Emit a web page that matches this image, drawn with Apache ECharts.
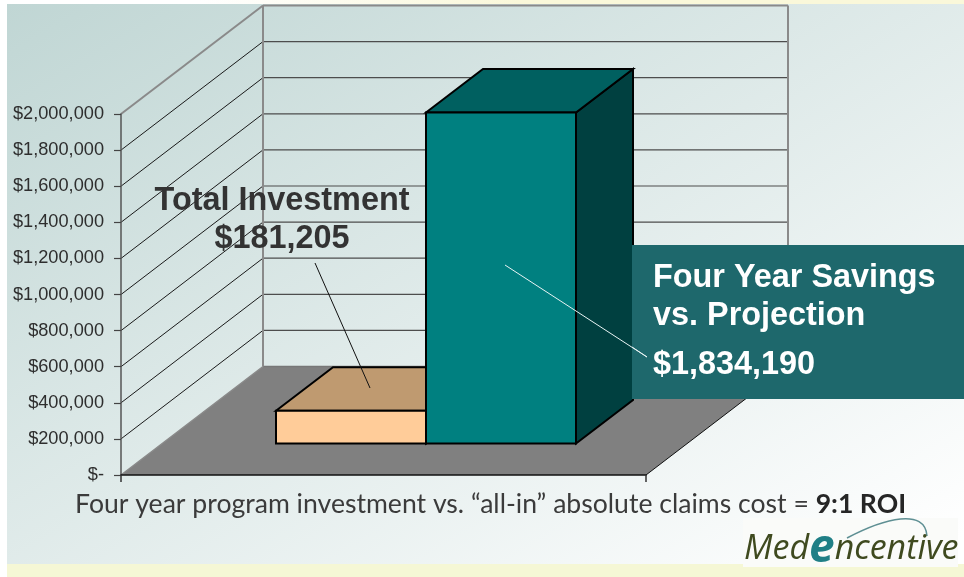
<!DOCTYPE html>
<html><head><meta charset="utf-8">
<style>html,body{margin:0;padding:0;background:#fff}#c{width:964px;height:577px}</style>
<script src="https://cdn.jsdelivr.net/npm/echarts@6/dist/echarts.min.js"></script>
</head><body><div id="c"></div>
<script>
const categories = ['Four year program'];
const seriesNames = ['Total Investment', 'Four Year Savings vs. Projection'];
const investmentValues = [181205];
const savingsValues = [1834190];
const tickValues = [0,200000,400000,600000,800000,1000000,1200000,1400000,1600000,1800000,2000000];
const tickLabels = ['$-','$200,000','$400,000','$600,000','$800,000','$1,000,000','$1,200,000','$1,400,000','$1,600,000','$1,800,000','$2,000,000'];

const WALL = {dx:142, dy:-108.5};
const BAR = {width:150, shiftX:42.5, shiftY:-31.5, depthX:57, depthY:-43.5};
const ARIAL = '"Liberation Sans", Arial, sans-serif';

function line(x1,y1,x2,y2,stroke,w){
  return {type:'line',shape:{x1,y1,x2,y2},style:{stroke,lineWidth:w||1}};
}
function poly(points,fill,stroke,w){
  return {type:'polygon',shape:{points},style:{fill,stroke:stroke||null,lineWidth:w||0,lineJoin:'miter'}};
}
function gridOf(params){ return params.coordSys; }

function renderWall(params,api){
  const v = api.value(0), c = gridOf(params);
  const y = api.coord([0,v])[1], x0 = c.x, x1 = c.x+c.width;
  const frame = v===tickValues[tickValues.length-1];
  const floor = v===0;
  const children = [];
  const yb = y+WALL.dy;
  if(frame){
    children.push(line(x0,y,x0+WALL.dx,yb,'#8a8a8a',2));
    children.push(line(x0+WALL.dx,yb,x1+WALL.dx,yb,'#8a8a8a',2));
    const yf = api.coord([0,0])[1]+WALL.dy;
    children.push(line(x0+WALL.dx,yb,x0+WALL.dx,yf,'#8a8a8a',2));
    children.push(line(x1+WALL.dx,yb,x1+WALL.dx,yf,'#8a8a8a',2));
  } else if(floor){
    children.push(poly([[x0,y],[x1,y],[x1+WALL.dx,yb],[x0+WALL.dx,yb]],'#808080'));
    children.push(line(x0,y,x0+WALL.dx,yb,'#8a8a8a',1.5));
    children.push(line(x0+WALL.dx,yb,x1+WALL.dx,yb,'#777',1.5));
    children.push(line(x1,y,x1+WALL.dx,yb,'#111',1));
  } else {
    children.push(line(x0,y,x0+WALL.dx,yb,'#1a1a1a',1));
    children.push(line(x0+WALL.dx,yb,x1+WALL.dx,yb,'#4d4d4d',1.2));
  }
  return {type:'group',children};
}

function barRenderer(offset,front,top,side){
  return function(params,api){
    const base = api.coord([api.value(0),0]);
    const topPt = api.coord([api.value(0),api.value(1)]);
    const xL = base[0]+BAR.shiftX+offset, xR = xL+BAR.width;
    const yB = base[1]+BAR.shiftY, yT = topPt[1]+BAR.shiftY;
    const dx = BAR.depthX, dy = BAR.depthY;
    const ink = '#000';
    return {type:'group',children:[
      poly([[xR,yT],[xR+dx,yT+dy],[xR+dx,yB+dy],[xR,yB]],side,ink,2),
      poly([[xL,yT],[xL+dx,yT+dy],[xR+dx,yT+dy],[xR,yT]],top,ink,2),
      poly([[xL,yT],[xR,yT],[xR,yB],[xL,yB]],front,ink,2)
    ]};
  };
}

const chart = echarts.init(document.getElementById('c'),null,{renderer:'canvas'});
chart.setOption({
  animation:false,
  backgroundColor:'#ffffff',
  grid:{left:121,top:114,width:525,height:361,containLabel:false},
  xAxis:{type:'category',data:categories,z:5,
    axisLine:{lineStyle:{color:'#111',width:1.5}},
    axisTick:{show:true,length:7,lineStyle:{color:'#333',width:1.5}},
    axisLabel:{show:false},splitLine:{show:false}},
  yAxis:{type:'value',min:0,max:2000000,interval:200000,z:5,
    axisLine:{show:true,lineStyle:{color:'#555',width:1.5}},
    axisTick:{show:true,length:7,lineStyle:{color:'#444',width:1.2}},
    axisLabel:{margin:17,fontFamily:ARIAL,fontSize:18.2,color:'#2e2e2e',
      formatter:function(v){return tickLabels[tickValues.indexOf(v)];}},
    splitLine:{show:false}},
  series:[
    {type:'custom',name:'walls',coordinateSystem:'cartesian2d',z:1,silent:true,
      data:tickValues.map(v=>[v]),encode:{y:0},renderItem:renderWall},
    {type:'custom',name:seriesNames[0],coordinateSystem:'cartesian2d',z:2,silent:true,
      data:investmentValues.map((v,i)=>[i,v]),encode:{x:0,y:1},
      renderItem:barRenderer(-BAR.width,'#ffcc99','#bf9a70','#7a5f40')},
    {type:'custom',name:seriesNames[1],coordinateSystem:'cartesian2d',z:3,silent:true,
      data:savingsValues.map((v,i)=>[i,v]),encode:{x:0,y:1},
      renderItem:barRenderer(0,'#008080','#006060','#004040')}
  ],
  graphic:[
    {type:'rect',z:-10,silent:true,shape:{x:7,y:4,width:957,height:560},
      style:{fill:{type:'linear',global:true,x:7,y:4,x2:571,y2:961,
        colorStops:[{offset:0,color:'#c0d6d4'},{offset:0.85,color:'#ffffff'}]}}},
    {type:'rect',z:-10,silent:true,shape:{x:7,y:0,width:957,height:4},
      style:{fill:{type:'linear',global:true,x:200,y:0,x2:520,y2:0,
        colorStops:[{offset:0,color:'#ffffff'},{offset:1,color:'#faf8da'}]}}},
    {type:'rect',z:-10,silent:true,shape:{x:7,y:564,width:957,height:13},style:{fill:'#f5f7d5'}},

    {type:'line',z:20,silent:true,shape:{x1:315,y1:263,x2:370,y2:388},style:{stroke:'#111',lineWidth:1}},
    {type:'text',z:20,silent:true,style:{x:282,y:201,text:'Total Investment',textAlign:'center',textVerticalAlign:'middle',
      font:'bold 32.4px '+ARIAL,fill:'#333333'}},
    {type:'text',z:20,silent:true,style:{x:282,y:239,text:'$181,205',textAlign:'center',textVerticalAlign:'middle',
      font:'bold 32.4px '+ARIAL,fill:'#333333'}},

    {type:'line',z:20,silent:true,shape:{x1:505,y1:265,x2:647,y2:357},style:{stroke:'#e8f4f4',lineWidth:1}},
    {type:'rect',z:19,silent:true,shape:{x:632,y:245,width:332,height:154},style:{fill:'#1e686c'}},
    {type:'line',z:20,silent:true,shape:{x1:632,y1:347,x2:647,y2:357},style:{stroke:'#e8f4f4',lineWidth:1}},
    {type:'text',z:21,silent:true,style:{x:653,y:278,text:'Four Year Savings',textAlign:'left',textVerticalAlign:'middle',
      font:'bold 32.4px '+ARIAL,fill:'#ffffff'}},
    {type:'text',z:21,silent:true,style:{x:653,y:316,text:'vs. Projection',textAlign:'left',textVerticalAlign:'middle',
      font:'bold 32.4px '+ARIAL,fill:'#ffffff'}},
    {type:'text',z:21,silent:true,style:{x:653,y:365,text:'$1,834,190',textAlign:'left',textVerticalAlign:'middle',
      font:'bold 32.4px '+ARIAL,fill:'#ffffff'}},

    {type:'text',z:20,silent:true,style:{x:75,y:504,textAlign:'left',textVerticalAlign:'middle',
      text:'{a|Four year program investment vs. \u201call-in\u201d absolute claims cost = }{b|9:1 ROI}',
      rich:{a:{font:'26.6px Lato',fill:'#3b3b3b'},b:{font:'bold 26.6px Lato',fill:'#262626'}}}},

    {type:'rect',z:18,silent:true,shape:{x:743,y:518,width:215,height:49},style:{fill:'#fafbf9'}},
    {type:'bezierCurve',z:20,silent:true,shape:{x1:847,y1:538,cpx1:885,cpy1:518,cpx2:925,cpy2:508,x2:927,y2:536},
      style:{stroke:'#5e8f93',lineWidth:1.5,fill:null}},
    {type:'text',z:20,silent:true,style:{x:744,y:549,textAlign:'left',textVerticalAlign:'middle',
      text:'{m|Med}{e|e}{m|ncentive}',
      rich:{m:{font:'italic 34px "Open Sans"',fill:'#3f4a1f'},e:{font:'italic bold 46px "Open Sans"',fill:'#1f7f86'}}}}
  ]
});
</script></body></html>
